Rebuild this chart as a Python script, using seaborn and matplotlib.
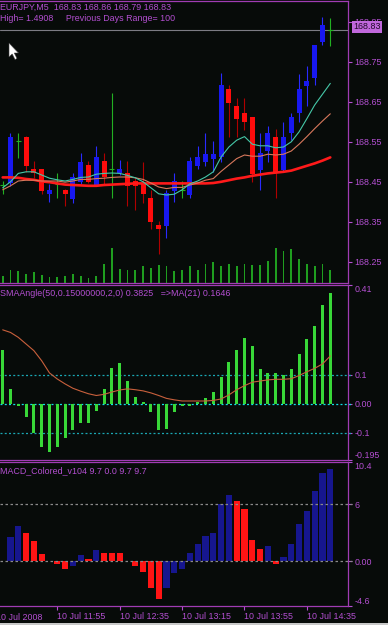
import matplotlib
matplotlib.use("Agg")
import matplotlib.pyplot as plt
import matplotlib.transforms as mtrans
from matplotlib.patches import Polygon, Rectangle
import numpy as np
import pandas as pd
import seaborn as sns

# ---------------- data ----------------
bar_index = list(range(43))
time_tick_pos = [7, 15, 23, 31, 39]
time_tick_labels = ["10 Jul 11:55", "10 Jul 12:35", "10 Jul 13:15", "10 Jul 13:55", "10 Jul 14:35"]
first_date_label = "10 Jul 2008"
first_date_pos = -0.9

open_ = [168.441, 168.447, 168.553, 168.563, 168.481, 168.481, 168.419, 168.444, 168.429, 168.408,
         168.450, 168.492, 168.442, 168.503, 168.481, 168.473, 168.471, 168.452, 168.446, 168.410,
         168.342, 168.340, 168.427, 168.429, 168.417, 168.489, 168.500, 168.508, 168.512, 168.681,
         168.639, 168.621, 168.611, 168.479, 168.528, 168.561, 168.479, 168.571, 168.621, 168.690,
         168.710, 168.800, 168.830]
high = [168.451, 168.572, 168.572, 168.565, 168.502, 168.483, 168.444, 168.472, 168.431, 168.473,
        168.522, 168.503, 168.539, 168.521, 168.671, 168.505, 168.502, 168.460, 168.500, 168.429,
        168.352, 168.429, 168.473, 168.452, 168.512, 168.539, 168.571, 168.552, 168.721, 168.692,
        168.659, 168.659, 168.613, 168.571, 168.590, 168.581, 168.600, 168.621, 168.719, 168.739,
        168.792, 168.861, 168.860]
low = [168.419, 168.440, 168.509, 168.475, 168.459, 168.419, 168.400, 168.409, 168.389, 168.397,
       168.445, 168.446, 168.440, 168.442, 168.409, 168.467, 168.389, 168.379, 168.397, 168.331,
       168.269, 168.309, 168.400, 168.409, 168.409, 168.481, 168.489, 168.475, 168.500, 168.563,
       168.563, 168.580, 168.450, 168.429, 168.500, 168.409, 168.475, 168.554, 168.600, 168.639,
       168.692, 168.792, 168.790]
close = [168.441, 168.563, 168.553, 168.490, 168.471, 168.428, 168.429, 168.444, 168.419, 168.463,
         168.500, 168.450, 168.511, 168.461, 168.481, 168.482, 168.440, 168.440, 168.419, 168.350,
         168.331, 168.421, 168.453, 168.429, 168.502, 168.511, 168.519, 168.519, 168.692, 168.648,
         168.608, 168.600, 168.469, 168.521, 168.571, 168.473, 168.561, 168.611, 168.681, 168.702,
         168.792, 168.842, 168.830]
volume = [20, 38, 35, 28, 32, 23, 17, 17, 20, 28, 21, 14, 20, 56, 106, 41, 38, 40, 50, 46,
          53, 50, 36, 40, 50, 40, 58, 62, 50, 58, 50, 58, 55, 55, 65, 106, 95, 103, 71, 58,
          50, 58, 40]
ma_fast = [168.435, 168.450, 168.471, 168.475, 168.475, 168.467, 168.459, 168.455, 168.452, 168.456,
           168.461, 168.462, 168.469, 168.471, 168.472, 168.471, 168.466, 168.460, 168.450, 168.435,
           168.420, 168.417, 168.419, 168.430, 168.445, 168.452, 168.462, 168.475, 168.512, 168.537,
           168.554, 168.563, 168.544, 168.540, 168.540, 168.535, 168.537, 168.550, 168.575, 168.608,
           168.642, 168.669, 168.696]
ma_mid = [168.430, 168.440, 168.452, 168.454, 168.454, 168.452, 168.452, 168.452, 168.449, 168.452,
          168.456, 168.456, 168.458, 168.459, 168.461, 168.462, 168.462, 168.460, 168.456, 168.447,
          168.437, 168.433, 168.436, 168.436, 168.442, 168.447, 168.454, 168.458, 168.476, 168.492,
          168.508, 168.517, 168.514, 168.514, 168.519, 168.517, 168.519, 168.527, 168.544, 168.563,
          168.583, 168.602, 168.620]
ma_slow = [168.461, 168.461, 168.460, 168.457, 168.455, 168.451, 168.449, 168.446, 168.443, 168.442,
           168.441, 168.440, 168.440, 168.442, 168.443, 168.444, 168.445, 168.446, 168.446, 168.446,
           168.446, 168.446, 168.446, 168.446, 168.446, 168.446, 168.446, 168.447, 168.450, 168.454,
           168.458, 168.461, 168.465, 168.468, 168.471, 168.473, 168.475, 168.478, 168.484, 168.490,
           168.496, 168.503, 168.511]
sma_angle = [0.186, 0.051, -0.009, -0.047, -0.101, -0.151, -0.168, -0.151, -0.120, -0.093,
             -0.067, -0.067, -0.026, 0.051, 0.124, 0.140, 0.078, 0.024, 0.007, -0.030,
             -0.090, -0.087, -0.030, -0.009, -0.009, 0.007, 0.021, 0.040, 0.091, 0.145,
             0.186, 0.226, 0.199, 0.121, 0.105, 0.105, 0.099, 0.121, 0.172, 0.223,
             0.267, 0.340, 0.3825]
sma_angle_ma = [0.255, 0.246, 0.229, 0.206, 0.183, 0.148, 0.106, 0.085, 0.068, 0.053,
                0.043, 0.034, 0.028, 0.032, 0.040, 0.047, 0.051, 0.048, 0.044, 0.037,
                0.028, 0.018, 0.013, 0.009, 0.009, 0.009, 0.009, 0.011, 0.016, 0.030,
                0.048, 0.062, 0.074, 0.078, 0.082, 0.084, 0.084, 0.086, 0.097, 0.110,
                0.122, 0.137, 0.1646]
macd = [0.0, 2.51, 3.73, 2.96, 2.09, 0.77, 0.10, -0.28, -0.80, -0.45,
        0.70, 0.31, 1.18, 0.90, 0.88, 0.86, 0.02, -0.45, -1.05, -2.72,
        -3.94, -2.72, -1.25, -0.80, 0.84, 1.88, 2.68, 2.96, 6.06, 6.97,
        6.34, 5.47, 2.23, 1.29, 1.64, -0.28, 0.49, 1.81, 3.90, 5.23,
        7.32, 9.30, 9.70]

price_ticks = [168.25, 168.35, 168.45, 168.55, 168.65, 168.75, 168.85]
sma_levels = [0.1, 0.0, -0.1]
sma_ticks = [0.41, 0.1, 0.0, -0.1, -0.195]
sma_tick_labels = ["0.41", "0.1", "0.00", "-0.1", "-0.195"]
macd_levels = [6, 0]
macd_ticks = [10.4, 6, 0, -4.6]
macd_tick_labels = ["10.4", "6", "0.00", "-4.6"]
last_price = 168.83

title_main_1 = "EURJPY,M5  168.83 168.86 168.79 168.83"
title_main_2 = "High= 1.4908     Previous Days Range= 100"
title_sma = "SMAAngle(50,0.15000000,2,0) 0.3825   =>MA(21) 0.1646"
title_macd = "MACD_Colored_v104 9.7 0.0 9.7 9.7"

# ---------------- style ----------------
BG = "#070b09"
PURPLE = "#b44fd2"
BORDER = "#a03cb4"
UP = "#1818f0"
UP_WICK = "#2a2aff"
DOWN = "#ff0c0c"
DOWN_WICK = "#b00000"
DOJI = "#22b022"
VOL = "#1f9e1f"
CYAN = "#45c8a8"
SALMON = "#d8785c"
SLOW = "#ff1a1a"
SMA_BAR = "#38d838"
SMA_MA = "#c8603c"
MACD_UP = "#16168e"
MACD_DN = "#ff1414"
FS = 6.4

sns.set_style("dark", {"axes.facecolor": BG, "figure.facecolor": BG})
plt.rcParams["font.family"] = ["Liberation Sans", "DejaVu Sans"]

W, H = 388, 625
fig = plt.figure(figsize=(W / 100, H / 100), dpi=100)
fig.patch.set_facecolor(BG)

PLOT_R = 348


def rect(top, bottom):
    return [0, 1 - bottom / H, PLOT_R / W, (bottom - top) / H]


XLIM = (-0.346, 44.27)

ax_vol = fig.add_axes(rect(1, 283))
ax = fig.add_axes(rect(1, 283), sharex=ax_vol)
ax_sma = fig.add_axes(rect(285, 460))
ax_macd = fig.add_axes(rect(462, 605.5))
ax_vol.set_zorder(0)
ax.set_zorder(1)
ax.patch.set_visible(False)

df = pd.DataFrame({"i": bar_index, "o": open_, "h": high, "l": low, "c": close,
                   "v": volume, "fast": ma_fast, "mid": ma_mid, "slow": ma_slow,
                   "ang": sma_angle, "angma": sma_angle_ma, "macd": macd})

# volume
ax_vol.bar(df["i"], df["v"], width=0.24, color=VOL, linewidth=0)
ax_vol.set_ylim(0, 846)
ax_vol.axis("off")

# candles
up = df[df.c > df.o]
dn = df[df.c < df.o]
dj = df[df.c == df.o]
BW = 0.64
ax.vlines(up.i, up.l, up.h, color=UP_WICK, lw=0.8, zorder=2)
ax.bar(up.i, up.c - up.o, bottom=up.o, width=BW, color=UP, linewidth=0, zorder=3)
ax.vlines(dn.i, dn.l, dn.h, color=DOWN_WICK, lw=0.8, zorder=2)
ax.bar(dn.i, dn.o - dn.c, bottom=dn.c, width=BW, color=DOWN, linewidth=0, zorder=3)
ax.vlines(dj.i, dj.l, dj.h, color=DOJI, lw=0.8, zorder=3)
ax.hlines(dj.c, dj.i - BW / 2, dj.i + BW / 2, color=DOJI, lw=0.8, zorder=3)

# moving averages
sns.lineplot(data=df, x="i", y="slow", ax=ax, color=SLOW, lw=1.9, zorder=4)
sns.lineplot(data=df, x="i", y="mid", ax=ax, color=SALMON, lw=0.8, zorder=5)
sns.lineplot(data=df, x="i", y="fast", ax=ax, color=CYAN, lw=0.8, zorder=5)

# bid line
ax.axhline(last_price, color="#7c7c84", lw=0.8, zorder=1)

ax.set_ylim(168.197, 168.902)
ax.set_xlim(*XLIM)

# ---------------- SMA angle panel ----------------
sns.barplot(data=df, x="i", y="ang", ax=ax_sma, native_scale=True, width=0.4,
            color=SMA_BAR, saturation=1, errorbar=None, linewidth=0, zorder=3)
sns.lineplot(data=df, x="i", y="angma", ax=ax_sma, color=SMA_MA, lw=0.8, zorder=4)
for lv in sma_levels:
    ax_sma.axhline(lv, color="#12e0e8" if lv == 0 else "#1aa8b4", lw=0.9,
                   ls=(0, (1.6, 1.8)), zorder=2, xmax=1.012, clip_on=False)
ax_sma.set_ylim(-0.195, 0.41)
ax_sma.set_xlim(*XLIM)

# ---------------- MACD panel ----------------
df["dir"] = ["up" if k == 0 or df.macd[k] >= df.macd[k - 1] else "dn" for k in range(len(df))]
sns.barplot(data=df, x="i", y="macd", hue="dir", ax=ax_macd, native_scale=True, width=0.8,
            palette={"up": MACD_UP, "dn": MACD_DN}, saturation=1, errorbar=None,
            dodge=False, legend=False, linewidth=0, zorder=3)
for lv in macd_levels:
    ax_macd.axhline(lv, color="#8a8a8a", lw=0.9, ls=(0, (2.0, 2.0)), zorder=4,
                    xmax=1.012, clip_on=False)
ax_macd.set_ylim(-4.6, 10.4)
ax_macd.set_xlim(*XLIM)

# ---------------- axes styling ----------------
for a in (ax, ax_sma, ax_macd):
    a.set_facecolor(BG)
    a.grid(False)
    a.set_xlabel("")
    a.set_ylabel("")
    for s in ("top", "right", "bottom"):
        a.spines[s].set_visible(True)
        a.spines[s].set_color(BORDER)
        a.spines[s].set_linewidth(0.9)
    a.spines["left"].set_visible(False)
    a.yaxis.tick_right()
    a.tick_params(axis="y", colors=PURPLE, labelcolor=PURPLE, labelsize=FS,
                  length=3, width=0.8, pad=1.5, direction="out", right=True, left=False)
    a.tick_params(axis="x", bottom=False, labelbottom=False, top=False)
    if a.get_legend() is not None:
        a.get_legend().remove()

ax.set_yticks(price_ticks)
ax.set_yticklabels([f"{t:.2f}" for t in price_ticks])

ax_sma.set_yticks(sma_ticks)
ax_sma.set_yticklabels(sma_tick_labels)
lbls = ax_sma.get_yticklabels()
lbls[0].set_va("top")
lbls[-1].set_va("bottom")

ax_macd.set_yticks(macd_ticks)
ax_macd.set_yticklabels(macd_tick_labels)
lbls = ax_macd.get_yticklabels()
lbls[0].set_va("top")
lbls[-1].set_va("bottom")

ax_macd.set_xticks(time_tick_pos)
ax_macd.set_xticklabels(time_tick_labels, ha="left")
ax_macd.tick_params(axis="x", bottom=True, labelbottom=True, colors=PURPLE,
                    labelcolor=PURPLE, labelsize=FS, length=3, width=0.8, pad=1.5,
                    direction="out")
ax_macd.text(first_date_pos, -(1.5 * 1.39 + 4 + 1) / 143.5 - 0.005, first_date_label,
             transform=mtrans.blended_transform_factory(ax_macd.transData, ax_macd.transAxes),
             color=PURPLE, fontsize=FS, ha="left", va="top", clip_on=False)

# price box
bt = mtrans.blended_transform_factory(fig.transFigure, ax.transData)
ax.text(353 / W, last_price + 0.007, f"{last_price:.2f}", transform=bt, color="#200828",
        fontsize=FS, ha="left", va="center", zorder=10, clip_on=False,
        bbox=dict(boxstyle="square,pad=0.14", fc="#c068dc", ec="none"))

# titles
def ftext(xpx, ypx, s):
    fig.text(xpx / W, 1 - ypx / H, s, color=PURPLE, fontsize=FS, ha="left", va="center")

ftext(0, 7.5, title_main_1)
ftext(0, 18.5, title_main_2)
ftext(0, 294, title_sma)
ftext(0, 471, title_macd)

# mouse cursor
cur = [(9, 43), (9, 57), (12.2, 54), (15, 59.5), (17, 58.5), (14.3, 53), (18.5, 53)]
fig.add_artist(Polygon([(x / W, 1 - y / H) for x, y in cur], closed=True,
                       transform=fig.transFigure, fc="white", ec="#404040", lw=0.4))
# window bottom edge
fig.add_artist(Rectangle((0, 0), 1, 2.5 / H, transform=fig.transFigure, fc="#c8c8c8", ec="none"))

fig.savefig("out.png", dpi=100, facecolor=BG)
